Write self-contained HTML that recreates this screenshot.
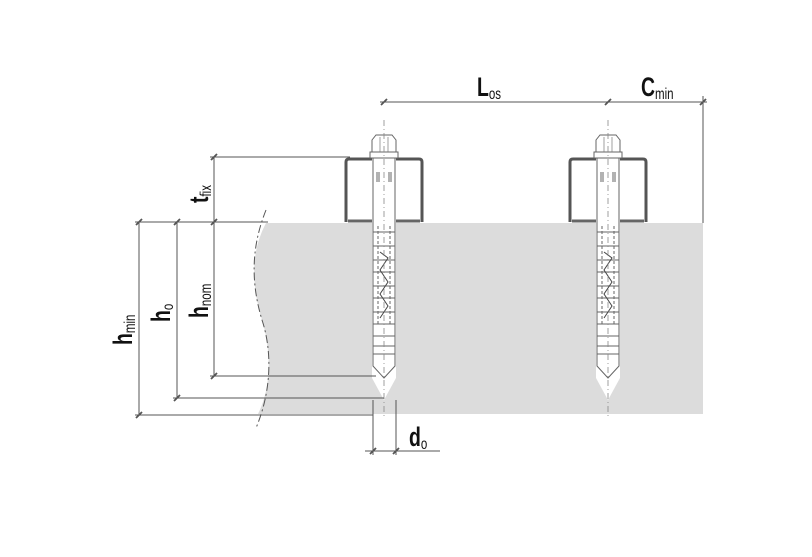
<!DOCTYPE html>
<html><head><style>html,body{margin:0;padding:0;background:#fff}svg{display:block}</style></head>
<body>
<svg width="812" height="557" viewBox="0 0 812 557" xmlns="http://www.w3.org/2000/svg" font-family="'Liberation Sans',sans-serif">
<defs>
<g id="anc">
  <path d="M-38,222 L-38,162 Q-38,159 -35,159 L-12,159 M12,159 L35,159 Q38,159 38,162 L38,222" fill="none" stroke="#555" stroke-width="3"/>
  <path d="M-36,221 L-12,221 M12,221 L36,221" stroke="#666" stroke-width="3"/>
  <path d="M-12,222 L12,222 L12,378 L0,400 L-12,378 Z" fill="#fff"/>
  <rect x="-11" y="158" width="22" height="196" fill="#fff" stroke="#666" stroke-width="1"/>
  <path d="M-11,354 L11,354 L11,366 L0,378 L-11,366 Z" fill="#fff" stroke="#666" stroke-width="1"/>
  <rect x="-14" y="152" width="28" height="6" fill="#fff" stroke="#666"/>
  <path d="M-12,152 L-12,140 L-8,135 L8,135 L12,140 L12,152 Z" fill="#fff" stroke="#666"/>
  <line x1="-4" y1="137" x2="-4" y2="152" stroke="#777" stroke-width="0.7"/>
  <line x1="4" y1="137" x2="4" y2="152" stroke="#777" stroke-width="0.7"/>
  <g stroke="#666" stroke-width="1" fill="none">
    <path d="M-11,232 h22 M-11,246 h22 M-11,260 h22 M-11,272 h22 M-11,286 h22 M-11,298 h22 M-11,312 h22 M-11,324 h22 M-11,336 h22 M-11,346 h22"/>
    <path d="M-6,226 v100 M6,226 v100" stroke-dasharray="3,2"/>
    <path d="M-4,252 L4,258 L-4,270 L4,282 L-4,294 L4,306 L-4,318" stroke="#444"/>
    <path d="M-7,172 v10 M-5,172 v10 M5,172 v10 M7,172 v10"/>
  </g>
  <line x1="0" y1="120" x2="0" y2="418" stroke="#888" stroke-width="0.8" stroke-dasharray="6,3,1,3"/>
</g>
</defs>

<path d="M266,223 L703,223 L703,414 L258,414 C275,380 268,340 262,320 C250,280 252,250 266,223 Z" fill="#dcdcdc"/>
<path d="M266,210 C252,245 250,280 262,320 C272,350 272,390 256,428" fill="none" stroke="#555" stroke-width="1" stroke-dasharray="8,3,2,3"/>

<use href="#anc" x="384"/>
<use href="#anc" x="608"/>

<g stroke="#555" stroke-width="1" fill="none">
  <line x1="380" y1="102" x2="707" y2="102"/>
  <line x1="703" y1="96" x2="703" y2="223"/>
  <path d="M381,105 l6,-6 M605,105 l6,-6 M700,105 l6,-6" stroke-width="1.8"/>
  <line x1="214" y1="157" x2="214" y2="376"/>
  <line x1="177" y1="222" x2="177" y2="398"/>
  <line x1="139" y1="222" x2="139" y2="415"/>
  <line x1="210" y1="157" x2="350" y2="157"/>
  <line x1="135" y1="222" x2="268" y2="222"/>
  <line x1="210" y1="376" x2="376" y2="376"/>
  <line x1="173" y1="398" x2="384" y2="398"/>
  <line x1="135" y1="415" x2="373" y2="415"/>
  <path d="M211,160 l6,-6 M211,225 l6,-6 M174,225 l6,-6 M136,225 l6,-6 M211,379 l6,-6 M174,401 l6,-6 M136,418 l6,-6" stroke-width="1.8"/>
  <line x1="373" y1="400" x2="373" y2="455"/>
  <line x1="396" y1="400" x2="396" y2="455"/>
  <line x1="365" y1="451" x2="440" y2="451"/>
  <path d="M370,454 l6,-6 M393,454 l6,-6" stroke-width="1.8"/>
</g>

<g fill="#111" font-weight="bold">
  <g transform="translate(477,96) scale(0.72,1)"><text font-size="27">L<tspan font-size="16" font-weight="normal" dy="3">os</tspan></text></g>
  <g transform="translate(641,96) scale(0.72,1)"><text font-size="27">C<tspan font-size="16" font-weight="normal" dy="3">min</tspan></text></g>
  <g transform="translate(409,446) scale(0.72,1)"><text font-size="27">d<tspan font-size="16" font-weight="normal" dy="3">o</tspan></text></g>
  <g transform="translate(208,203) rotate(-90) scale(0.72,1)"><text font-size="27">t<tspan font-size="16" font-weight="normal" dy="3">fix</tspan></text></g>
  <g transform="translate(208,318) rotate(-90) scale(0.72,1)"><text font-size="27">h<tspan font-size="16" font-weight="normal" dy="3">nom</tspan></text></g>
  <g transform="translate(170,322) rotate(-90) scale(0.72,1)"><text font-size="27">h<tspan font-size="16" font-weight="normal" dy="3">o</tspan></text></g>
  <g transform="translate(132,345) rotate(-90) scale(0.72,1)"><text font-size="27">h<tspan font-size="16" font-weight="normal" dy="3">min</tspan></text></g>
</g>
</svg>
</body></html>
